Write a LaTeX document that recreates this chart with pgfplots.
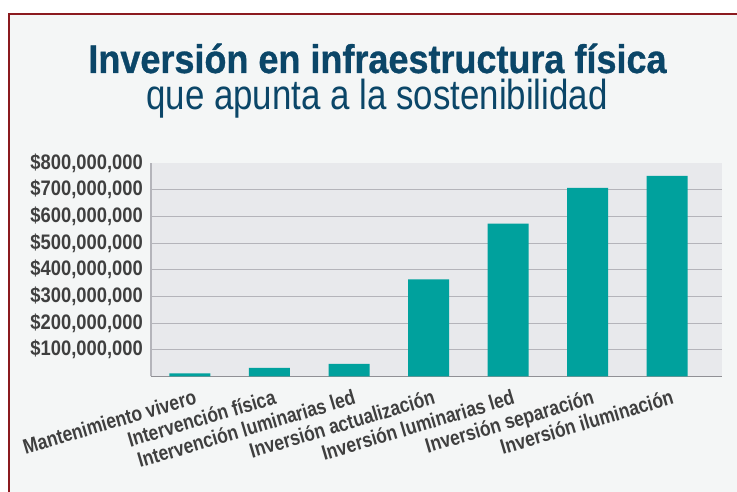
\documentclass[border=0pt]{standalone}
\usepackage{pgfplots}
\pgfplotsset{compat=1.18}
\usepackage{fontspec}
\setmainfont[FakeStretch=0.83]{Liberation Sans}
\newfontfamily\titlefont[FakeStretch=0.9,FakeBold=0.8]{Liberation Sans}
\newfontfamily\subfont[FakeStretch=0.83]{Liberation Sans}
\newfontfamily\ylabfont[FakeStretch=0.875]{Liberation Sans}
\definecolor{bgc}{HTML}{F4F6F6}
\definecolor{plotbg}{HTML}{E8E9EC}
\definecolor{gridc}{HTML}{B4B4BA}
\definecolor{barc}{HTML}{00A19D}
\definecolor{titlec}{HTML}{0B4668}
\definecolor{redc}{HTML}{8B1A1F}
\definecolor{labc}{HTML}{3F3F3F}
\def\eightlab{\$800,000,000}
\begin{document}
\begin{tikzpicture}[x=1pt,y=1pt]
\useasboundingbox (0,0) rectangle (737,492);
\fill[white] (0,0) rectangle (737,492);
\fill[bgc] (9,0) rectangle (737,478);
\draw[redc,line width=2.2pt] (9,0) -- (9,478) -- (737,478);
\node[anchor=base,text=titlec,font=\titlefont\bfseries\fontsize{40}{44}\selectfont,inner sep=0pt] at (377.5,419) {Inversión en infraestructura física};
\node[anchor=base,text=titlec,font=\subfont\fontsize{42}{46}\selectfont,inner sep=0pt] at (377,382) {que apunta a la sostenibilidad};
\begin{axis}[
  at={(151pt,115.5pt)}, anchor=south west,
  scale only axis, width=571pt, height=213.5pt,
  xmin=-0.49, xmax=6.69, ymin=0, ymax=800,
  axis background/.style={fill=plotbg},
  axis x line*=bottom, axis y line*=left,
  x axis line style={draw=gridc!80!black,line width=1.2pt,-},
  y axis line style={draw=gridc,line width=1.2pt,-},
  xtick=data, xtick style={draw=none},
  ytick={100,200,...,700}, ytick style={draw=none},
  extra y ticks={800}, extra y tick labels={\eightlab}, extra y tick style={grid=none},
  yticklabels={{\$100,000,000},{\$200,000,000},{\$300,000,000},{\$400,000,000},{\$500,000,000},{\$600,000,000},{\$700,000,000}},
  ymajorgrids, grid style={draw=gridc,line width=1pt},
  yticklabel style={font=\ylabfont\bfseries\fontsize{21}{21}\selectfont,text=labc,xshift=-7pt,inner sep=1pt},
  xticklabels={Mantenimiento vivero,Intervención física,Intervención luminarias led,Inversión actualización,Inversión luminarias led,Inversión separación,Inversión iluminación},
  xticklabel style={font=\bfseries\fontsize{21}{21}\selectfont,text=labc,xshift=4pt,yshift=-11pt,rotate=16.5,anchor=north east,inner sep=1pt},
]
\addplot[ybar, bar width=41pt, fill=barc, draw=none] coordinates {
(0,12) (1,32) (2,47) (3,364) (4,573) (5,707) (6,752)};
\end{axis}
\end{tikzpicture}
\end{document}
